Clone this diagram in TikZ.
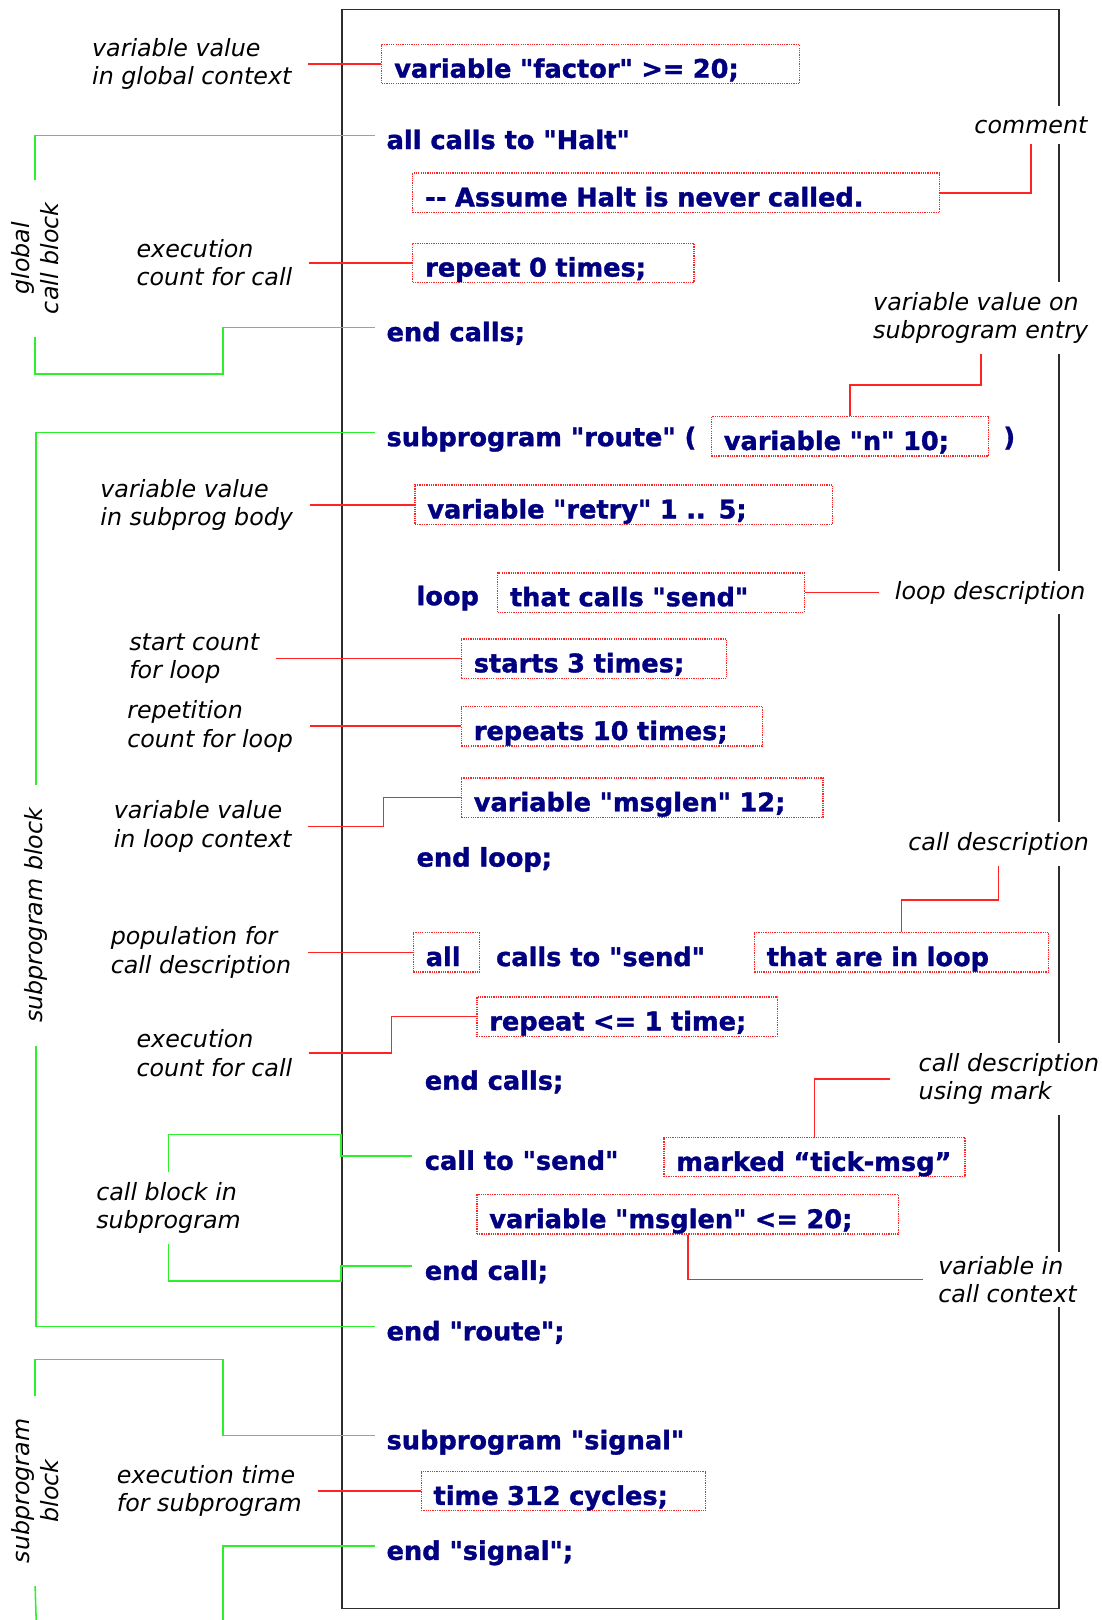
\documentclass[tikz,border=0pt]{standalone}
\usepackage{fontspec}
\usepackage{tikz}
\usetikzlibrary{calc,positioning}
\usepackage{xcolor}
\definecolor{codenavy}{RGB}{0,0,128}
\definecolor{leaderred}{RGB}{255,35,35}
\definecolor{blockgreen}{RGB}{45,240,45}
\definecolor{framegray}{RGB}{45,45,45}
\newfontfamily\codefont{DejaVu Sans Bold}[FakeBold=1.3]
\newfontfamily\notefont{DejaVu Sans Oblique}

\begin{document}
\begin{tikzpicture}[x=1pt, y=-1pt]
        \tikzstyle{code}=[font=\codefont\fontsize{24.8}{29}\selectfont, text=codenavy, text height=26.5pt, text depth=0pt, inner sep=0pt, anchor=west]
        \tikzstyle{codebox}=[code, draw=leaderred, densely dotted, line width=1.2pt, inner xsep=12pt, minimum height=38pt, align=left]
        \tikzstyle{note}=[font=\notefont\fontsize{23}{27.5}\selectfont, align=left, fill=white, inner xsep=4pt, inner ysep=10pt, anchor=west]
        \tikzstyle{blocknote}=[font=\notefont\fontsize{23}{27.5}\selectfont, align=center, fill=white, rotate=90, inner xsep=22pt, inner ysep=2pt]
        \tikzstyle{lead}=[leaderred, line width=1.6pt]
        \tikzstyle{bracket}=[blockgreen, line width=1.5pt]

        \useasboundingbox (0,0) rectangle (1066,1568);

        % Listing frame
        \draw[framegray, line width=1.5pt] (331,9) rectangle (1025,1557);

        % Global part of the listing
        \node (vfactor)[codebox, text width=380pt] at (369,62) {variable "factor" >= 20;};
        \node (allhalt)[code] at (374,131) {all calls to "Halt"};
        \node (cmt)[codebox, text width=486pt] at (399,186.5) {-{}- Assume Halt is never called.};
        \node (rep0)[codebox, text width=248pt] at (399,254.4) {repeat 0 times;};
        \node (endcalls)[code] at (374,317) {end calls;};

        % Subprogram "route"
        \node (subroute)[code] at (374,418.6) {subprogram "route" (};
        \node (varn)[codebox, text width=244pt] at (688,422.3) {variable "n" 10;};
        \node (paren)[code] at (971,418.6) {)};
        \node (retry)[codebox, text width=380pt] at (401,488.5) {variable "retry" 1 .. 5;};
        \node (loopkw)[code] at (403,572.5) {loop};
        \node (callssend)[codebox, text width=273pt] at (481,573.5) {that calls "send"};
        \node (starts)[codebox, text width=232.5pt] at (446,637.5) {starts 3 times;};
        \node (repeats)[codebox, text width=267.5pt] at (446,703) {repeats 10 times;};
        \node (msglen)[codebox, text width=326pt] at (446,772) {variable "msglen" 12;};
        \node (endloop)[code] at (403,825.5) {end loop;};
        \node (all)[codebox, text width=40pt] at (399.5,921.8) {all};
        \node (callsto)[code] at (480,921.8) {calls to "send"};
        \node (inloop)[codebox, text width=261pt] at (729.5,921.8) {that are in loop};
        \node (rep1)[codebox, text width=267pt] at (461,984) {repeat <= 1 time;};
        \node (endcalls2)[code] at (411,1041.5) {end calls;};
        \node (callsend)[code] at (411,1119) {call to "send"};
        \node (marked)[codebox, text width=267.5pt] at (642,1120) {marked “tick-msg”};
        \node (msglen2)[codebox, text width=384pt] at (461,1175.4) {variable "msglen" <= 20;};
        \node (endcall)[code] at (411,1225.5) {end call;};
        \node (endroute)[code] at (374,1284) {end "route";};

        % Subprogram "signal"
        \node (subsignal)[code] at (374,1389.5) {subprogram "signal"};
        \node (time)[codebox, text width=251pt] at (407,1443.3) {time 312 cycles;};
        \node (endsignal)[code] at (374,1496.5) {end "signal";};

        % Notes on the left
        \node (gctx)[note] at (85,62) {variable value\\in global context};
        \node (exec1)[note] at (128,254.4) {execution\\count for call};
        \node (body)[note] at (93,488.5) {variable value\\in subprog body};
        \node (startnote)[note] at (121,637.5) {start count\\for loop};
        \node (repnote)[note] at (119,703) {repetition\\count for loop};
        \node (lctx)[note] at (106,800) {variable value\\in loop context};
        \node (pop)[note] at (103,921.8) {population for\\call description};
        \node (exec2)[note] at (128,1019.3) {execution\\count for call};
        \node (cbs)[note] at (89,1169) {call block in\\subprogram};
        \node (timenote)[note] at (109,1443.3) {execution time\\for subprogram};

        % Notes on the right
        \node (cmtnote)[note] at (939,121) {comment};
        \node (entry)[note] at (841,308) {variable value on\\subprogram entry};
        \node (ldesc)[note] at (862,573.5) {loop description};
        \node (cdesc)[note] at (875,817) {call description};
        \node (marknote)[note] at (885,1044.4) {call description\\using mark};
        \node (cctx)[note, inner ysep=4pt] at (904,1238.4) {variable in\\call context};

        % Block labels
        \node (gcb)[blocknote] at (34,250) {global\\call block};
        \node (srb)[blocknote] at (35,886) {subprogram block};
        \node (ssb)[blocknote] at (34,1443) {subprogram\\block};
        \coordinate (gcorner) at (216,362);
        \coordinate (cbtop) at (330,1098);
        \coordinate (cbbot) at (330,1240);
        \coordinate (sstop) at (216,1316);
        \coordinate (ssbot) at (35,1568);
        \coordinate (sigbot) at (216,1568);

        % Red leaders
        \draw[lead] ([xshift=12pt]gctx.east) -- (vfactor.west);
        \draw[lead] (cmt.east) -| (cmtnote.south);
        \draw[lead] ([xshift=12pt]exec1.east) -- (rep0.west);
        \draw[lead] (varn.north) -- ++(0,-30) -| (entry.south);
        \draw[lead] ([xshift=12pt]body.east) -- (retry.west);
        \draw[lead] (callssend.east) -- ([xshift=-11pt]ldesc.west);
        \draw[lead] ([xshift=12pt]startnote.east) -- (starts.west);
        \draw[lead] ([xshift=12pt]repnote.east) -- (repeats.west);
        \draw[lead] ([xshift=12pt]lctx.east) -- ++(73,0) |- (msglen.west);
        \draw[lead] (inloop.north) -- ++(0,-31) -| (cdesc.south);
        \draw[lead] ([xshift=12pt]pop.east) -- (all.west);
        \draw[lead] ([xshift=12pt]exec2.east) -- ++(80,0) |- (rep1.west);
        \draw[lead] (marked.north) |- ([xshift=-24pt]marknote.west);
        \draw[lead] (msglen2.south) |- ([xshift=-11pt]cctx.west);
        \draw[lead] ([xshift=12pt]timenote.east) -- (time.west);

        % Green block brackets
        \draw[bracket] ([xshift=-11pt]allhalt.west) -| (gcb.east);
        \draw[bracket] (gcb.west) |- (gcorner) |- ([xshift=-11pt]endcalls.west);
        \draw[bracket] ([xshift=-11pt]subroute.west) -| (srb.east);
        \draw[bracket] (srb.west) |- ([xshift=-11pt]endroute.west);
        \draw[bracket] ([xshift=-12pt]callsend.west) -| (cbtop) -| (cbs.north);
        \draw[bracket] (cbs.south) |- (cbbot) |- ([xshift=-12pt]endcall.west);
        \draw[bracket] (ssb.east) |- (sstop) |- ([xshift=-11pt]subsignal.west);
        \draw[bracket] (ssb.west) -- (ssbot);
        \draw[bracket] ([xshift=-11pt]endsignal.west) -| (sigbot);
\end{tikzpicture}
\end{document}
